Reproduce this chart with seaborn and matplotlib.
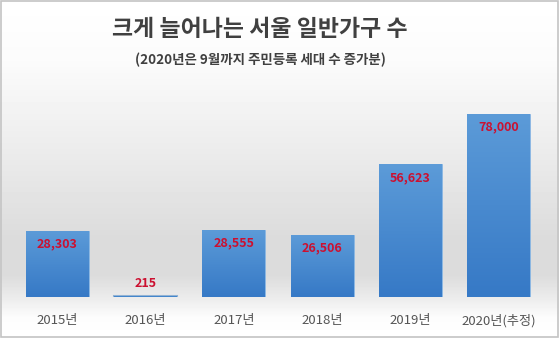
import numpy as np
import matplotlib
matplotlib.use("Agg")
import matplotlib.pyplot as plt
import seaborn as sns
from matplotlib.colors import LinearSegmentedColormap

years = ["2015년", "2016년", "2017년", "2018년", "2019년", "2020년(추정)"]
households = [28303, 215, 28555, 26506, 56623, 78000]
value_labels = ["28,303", "215", "28,555", "26,506", "56,623", "78,000"]

sns.set_theme(style="white")
plt.rcParams["font.family"] = ["Noto Sans CJK KR", "DejaVu Sans"]

fig = plt.figure(figsize=(5.59, 3.38), dpi=100)

# background gradient (white -> light gray -> white)
bg = fig.add_axes([0, 0, 1, 1])
rows = np.linspace(0, 338, 338)
shade = np.interp(rows, [0, 60, 150, 240, 275, 300, 318, 338],
                  [1.0, 0.985, 0.925, 0.86, 0.86, 0.93, 0.99, 1.0])
bg.imshow(np.tile(shade[:, None], (1, 10)), cmap="gray", vmin=0, vmax=1,
          aspect="auto", extent=[0, 1, 0, 1])
bg.set_xlim(0, 1)
bg.set_ylim(0, 1)
bg.axis("off")
bg.add_patch(plt.Rectangle((0.001, 0.002), 0.997, 0.995, fill=False,
                           edgecolor="#c4c4c4", lw=1.2, transform=bg.transAxes))

ax = fig.add_axes([13 / 559, 41 / 338, 530 / 559, 192 / 338])
ax.patch.set_alpha(0)
sns.barplot(x=years, y=households, color="#4a8ad0", width=0.71,
            edgecolor="#8ab8e6", linewidth=0.6, ax=ax)

blue = LinearSegmentedColormap.from_list("bar", ["#3679c6", "#5c9bd8"])
grad = np.linspace(0, 1, 100)[:, None]
for p in ax.patches:
    x0, w, h = p.get_x(), p.get_width(), p.get_height()
    im = ax.imshow(grad, cmap=blue, aspect="auto", origin="lower",
                   extent=[x0, x0 + w, 0, h], zorder=p.get_zorder() + 0.1)
    im.set_clip_path(p)
    if h < 1000:
        p.set_facecolor("#93b3d3")
        p.set_edgecolor("#93b3d3")
        p.set_linewidth(1.5)
ax.set_xlim(-0.5, 5.5)
ax.set_ylim(0, 81836)

for i, (v, lab) in enumerate(zip(households, value_labels)):
    off = -9.5 if v > 5000 else 9.5
    ax.annotate(lab, (i, v), xytext=(0, off), textcoords="offset points",
                ha="center", va="center", color="#cc1030",
                fontsize=9, fontweight="bold", zorder=5)

ax.set_yticks([])
ax.set_xlabel("")
ax.set_ylabel("")
ax.tick_params(axis="x", length=0, pad=12, labelsize=9.5, labelcolor="#555555")
sns.despine(ax=ax, left=True, bottom=True)

fig.text(260 / 559, 1 - 29 / 338, "크게 늘어나는 서울 일반가구 수", ha="center",
         va="center", fontsize=16.5, fontweight="bold", color="#404040")
fig.text(260 / 559, 1 - 60 / 338, "(2020년은 9월까지 주민등록 세대 수 증가분)",
         ha="center", va="center", fontsize=9.7, fontweight="bold",
         color="#404040")

fig.savefig("out.png", dpi=100)
